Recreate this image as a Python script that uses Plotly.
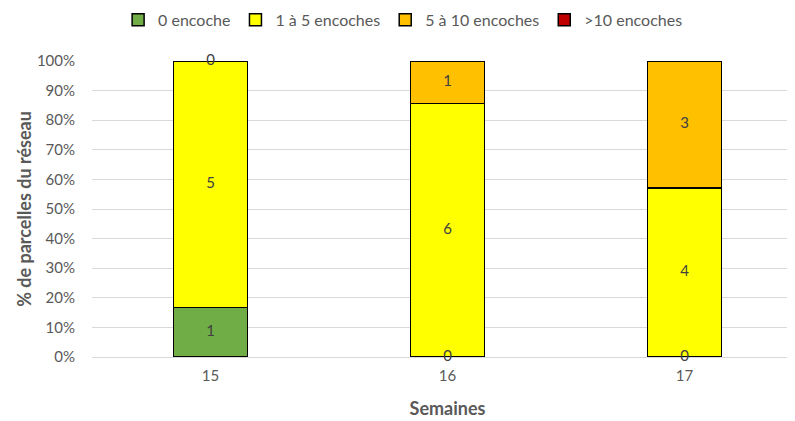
import plotly.graph_objects as go

semaines = ["15", "16", "17"]
series_names = ["0 encoche", "1 à 5 encoches", "5 à 10 encoches", ">10 encoches"]
counts_0 = [1, 0, 0]
counts_1_5 = [5, 6, 4]
counts_5_10 = [0, 1, 3]
counts_10 = [0, 0, 0]
colors = ["#70AD47", "#FFFF00", "#FFC000", "#C00000"]
show_labels = [True, True, True, False]
y_ticks = [0, 0.1, 0.2, 0.3, 0.4, 0.5, 0.6, 0.7, 0.8, 0.9, 1.0]

all_counts = [counts_0, counts_1_5, counts_5_10, counts_10]
totals = [sum(c[i] for c in all_counts) for i in range(len(semaines))]

FONT = "Lato"
fig = go.Figure()

bases = [0.0] * len(semaines)
label_x, label_y, label_t = [], [], []
for name, cnt, col, show in zip(series_names, all_counts, colors, show_labels):
    frac = [c / t for c, t in zip(cnt, totals)]
    fig.add_trace(go.Bar(
        x=semaines, y=frac, name=name,
        marker=dict(color=col, line=dict(color="#000000", width=1.5)),
        hoverinfo="skip",
    ))
    if show:
        for i in range(len(semaines)):
            label_x.append(semaines[i])
            label_y.append(bases[i] + frac[i] / 2)
            label_t.append(str(cnt[i]))
    bases = [b + f for b, f in zip(bases, frac)]

fig.add_trace(go.Scatter(
    x=label_x, y=label_y, text=label_t, mode="text",
    textfont=dict(family=FONT, size=15, color="#404040"),
    showlegend=False, cliponaxis=False, hoverinfo="skip",
))

fig.update_layout(
    width=795, height=421,
    barmode="stack", bargap=0.688,
    paper_bgcolor="white", plot_bgcolor="white",
    margin=dict(l=84, r=0, t=53, b=72),
    font=dict(family=FONT, size=15, color="#595959"),
    legend=dict(
        orientation="h", traceorder="normal",
        xref="container", yref="container",
        x=0.497, xanchor="center", y=0.972, yanchor="middle",
        font=dict(family=FONT, size=16, color="#595959"),
        itemwidth=30,
    ),
    xaxis=dict(
        type="category", range=[-0.5, 2.5],
        showgrid=False, showline=False, ticks="",
        ticklabelstandoff=8,
        tickfont=dict(size=15, color="#595959"),
        title=dict(text="<b>Semaines</b>", font=dict(size=18, color="#595959"), standoff=19),
    ),
    yaxis=dict(
        range=[0, 1], tickvals=y_ticks, tickformat=".0%",
        showgrid=True, gridcolor="#D9D9D9", gridwidth=1,
        zeroline=True, zerolinecolor="#D9D9D9", zerolinewidth=1,
        showline=False, ticks="", ticklabelstandoff=16,
        tickfont=dict(size=15, color="#595959"),
        title=dict(text="<b>% de parcelles du réseau</b>", font=dict(size=18, color="#595959"), standoff=0),
    ),
)

fig.write_html("out.html")
